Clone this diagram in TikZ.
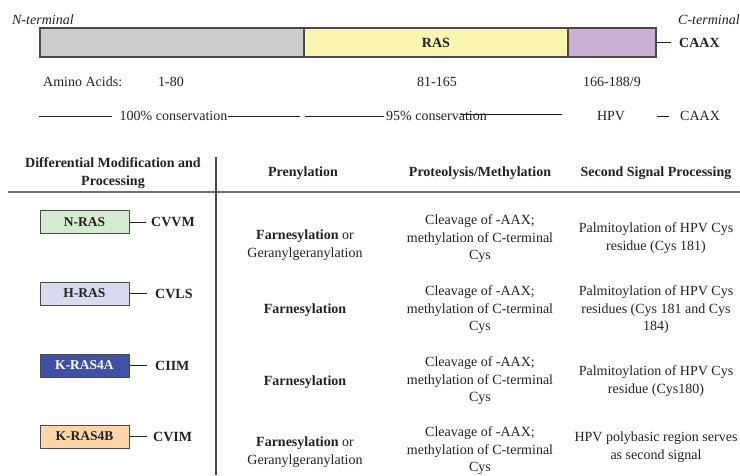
\documentclass[tikz,border=0pt]{standalone}
\usepackage{fontspec}
\setmainfont{Liberation Serif}
\usepackage{xcolor}
\definecolor{rasgrey}{HTML}{CCCCCC}
\definecolor{rasyellow}{HTML}{FAF5B0}
\definecolor{raspurple}{HTML}{C9B0D4}
\definecolor{nrasgreen}{HTML}{D4EBCF}
\definecolor{hraslilac}{HTML}{D9D9F0}
\definecolor{krasblue}{HTML}{3F51A5}
\definecolor{kraspeach}{HTML}{FDD5A8}
\definecolor{rasedge}{HTML}{4A4A4A}
\definecolor{rasink}{HTML}{222222}
\usetikzlibrary{positioning}

\begin{document}
\begin{tikzpicture}[
  x=1pt, y=-1pt,
  font=\fontsize{14}{17.5}\selectfont, text=rasink,
  seg/.style={draw=rasedge, line width=1.2pt, minimum height=29pt, inner sep=0pt},
  isobox/.style={draw=rasedge, line width=1pt, minimum width=89pt, minimum height=23pt,
                 inner sep=0pt, font=\fontsize{13.5}{16}\selectfont\bfseries},
  motif/.style={anchor=west, inner xsep=0pt, font=\fontsize{14}{17}\selectfont\bfseries},
  cell/.style={align=center, inner sep=0pt},
  head/.style={cell, font=\fontsize{14}{17.5}\selectfont\bfseries},
  lbl/.style={anchor=west, inner xsep=0pt},
  link/.style={draw=rasink, line width=0.8pt},
  tabrule/.style={draw=rasedge, line width=1.5pt},
]
  \useasboundingbox (0,0) rectangle (740,475);

  % protein bar
  \node[lbl, font=\fontsize{14}{17}\selectfont\itshape] (nterm) at (12,20) {N-terminal};
  \node[lbl, font=\fontsize{14}{17}\selectfont\itshape] (cterm) at (678,20) {C-terminal};
  \node[seg, fill=rasgrey, minimum width=264pt] (hvr) at (172,42.5) {};
  \node[seg, fill=rasyellow, minimum width=264pt, font=\fontsize{14}{17}\selectfont\bfseries] (gdom) at (436,42.5) {RAS};
  \node[seg, fill=raspurple, minimum width=88pt] (hpv) at (612,42.5) {};
  \node[motif] (caaxtop) at (679,42.5) {CAAX};
  \draw[link, shorten >=8pt] (hpv) -- (caaxtop);

  % residues
  \node[lbl] (amino) at (43,82) {Amino Acids:};
  \node (aa1) at (171,82) {1-80};
  \node (aa2) at (437,82) {81-165};
  \node (aa3) at (612,82) {166-188/9};

  % conservation
  \coordinate (c100a) at (39,116);
  \coordinate (c100b) at (300,116);
  \node[cell] (c100) at (173.5,116) {100\% conservation};
  \draw[link, shorten >=7pt] (c100a) -- (c100);
  \draw[link] (c100) -- (c100b);
  \coordinate (c95a) at (305,116);
  \coordinate (c95b) at (460,114);
  \coordinate (c95c) at (562,114);
  \node[cell] (c95) at (436.5,116) {95\% conservation};
  \draw[link, shorten >=2pt] (c95a) -- (c95);
  \draw[link] (c95b) -- (c95c);
  \node (hpvlbl) at (611,116) {HPV};
  \coordinate (caaxa) at (657,116);
  \node[lbl] (caaxlow) at (680,116) {CAAX};
  \draw[link, shorten >=11pt] (caaxa) -- (caaxlow);

  % table head
  \node[head] (hmod) at (113,173) {Differential Modification and\\Processing};
  \node[head] (hpren) at (303,173) {Prenylation};
  \node[head] (hprot) at (480,173) {Proteolysis/Methylation};
  \node[head] (hsec) at (656,173) {Second Signal Processing};
  \coordinate (rowl) at (8,192);
  \coordinate (rowr) at (740,192);
  \coordinate (colt) at (216,157);
  \coordinate (colb) at (216,475);
  \draw[tabrule, draw=rasedge!80] (rowl) -- (rowr);
  \draw[tabrule, line width=1.2pt] (colt) -- (colb);

  % isoforms
  \node[isobox, fill=nrasgreen] (nras) at (84.5,222) {N-RAS};
  \node[motif] (nmot) at (151,222) {CVVM};
  \draw[link, shorten >=5pt] (nras) -- (nmot);
  \node[isobox, fill=hraslilac] (hras) at (84.5,293.5) {H-RAS};
  \node[motif] (hmot) at (155,293.5) {CVLS};
  \draw[link, shorten >=8pt] (hras) -- (hmot);
  \node[isobox, fill=krasblue, text=white] (kras4a) at (84.5,365.5) {K-RAS4A};
  \node[motif] (amot) at (155,365.5) {CIIM};
  \draw[link, shorten >=8pt] (kras4a) -- (amot);
  \node[isobox, fill=kraspeach] (kras4b) at (84.5,436.5) {K-RAS4B};
  \node[motif] (bmot) at (153,436.5) {CVIM};
  \draw[link, shorten >=6pt] (kras4b) -- (bmot);

  % processing steps
  \node[cell] (pren1) at (305,245) {\textbf{Farnesylation} or\\Geranylgeranylation};
  \node[cell] (prot1) at (480,239) {Cleavage of -AAX;\\methylation of C-terminal\\Cys};
  \node[cell] (sec1) at (656,238) {Palmitoylation of HPV Cys\\residue (Cys 181)};
  \node[cell] (pren2) at (305,310) {\textbf{Farnesylation}};
  \node[cell] (prot2) at (480,310) {Cleavage of -AAX;\\methylation of C-terminal\\Cys};
  \node[cell] (sec2) at (656,310) {Palmitoylation of HPV Cys\\residues (Cys 181 and Cys\\184)};
  \node[cell] (pren3) at (305,382) {\textbf{Farnesylation}};
  \node[cell] (prot3) at (480,381) {Cleavage of -AAX;\\methylation of C-terminal\\Cys};
  \node[cell] (sec3) at (656,381) {Palmitoylation of HPV Cys\\residue (Cys180)};
  \node[cell] (pren4) at (305,452) {\textbf{Farnesylation} or\\Geranylgeranylation};
  \node[cell] (prot4) at (480,451) {Cleavage of -AAX;\\methylation of C-terminal\\Cys};
  \node[cell] (sec4) at (656,447) {HPV polybasic region serves\\as second signal};
\end{tikzpicture}
\end{document}
